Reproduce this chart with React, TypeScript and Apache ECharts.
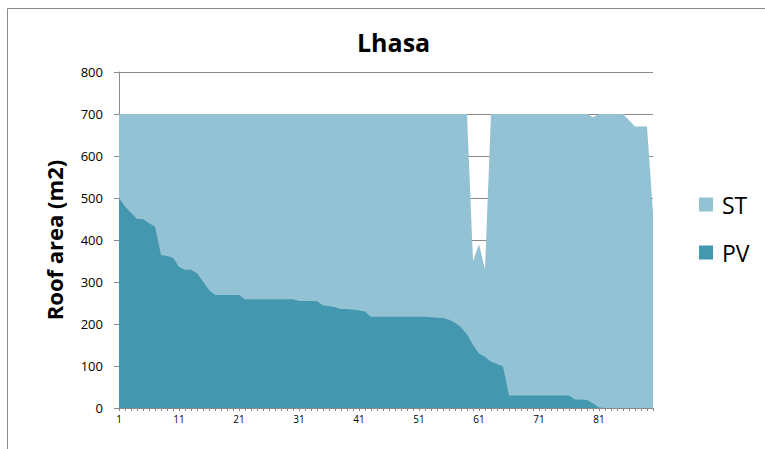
import React, { useEffect, useRef } from "react";
import * as echarts from "echarts";

const categories: string[] = Array.from({ length: 90 }, (_, i) => String(i + 1));

const pvValues: number[] = [
  500, 480, 465, 450, 450, 440, 432, 364, 362, 358,
  336, 329, 329, 321, 301, 281, 269, 269, 269, 269,
  269, 259, 259, 259, 259, 259, 259, 259, 259, 259,
  255, 255, 255, 254, 244, 243, 240, 236, 236, 234,
  232, 230, 217, 217, 217, 217, 217, 217, 217, 217,
  217, 217, 216, 215, 214, 210, 203, 192, 175, 150,
  130, 122, 110, 105, 99, 30, 30, 30, 30, 30,
  30, 30, 30, 30, 30, 30, 20, 20, 19, 11,
  1, 0, 0, 0, 0, 0, 0, 0, 0, 0,
];

const stValues: number[] = [
  700, 700, 700, 700, 700, 700, 700, 700, 700, 700,
  700, 700, 700, 700, 700, 700, 700, 700, 700, 700,
  700, 700, 700, 700, 700, 700, 700, 700, 700, 700,
  700, 700, 700, 700, 700, 700, 700, 700, 700, 700,
  700, 700, 700, 700, 700, 700, 700, 700, 700, 700,
  700, 700, 700, 700, 700, 700, 700, 700, 700, 350,
  390, 330, 700, 700, 700, 700, 700, 700, 700, 700,
  700, 700, 700, 700, 700, 700, 700, 700, 700, 692,
  700, 700, 700, 700, 700, 685, 670, 670, 670, 465,
];

const seriesNames: string[] = ["ST", "PV"];
const FONT = "'Open Sans', Lato, 'DejaVu Sans', sans-serif";
const GRAY = "#898989";

export default function App() {
  const ref = useRef<HTMLDivElement>(null);
  useEffect(() => {
    if (!ref.current) return;
    const chart = echarts.init(ref.current, undefined, { renderer: "svg" });
    chart.setOption({
      animation: false,
      backgroundColor: "#ffffff",
      textStyle: { fontFamily: FONT },
      title: {
        text: "Lhasa",
        left: 352,
        top: 24,
        textStyle: { fontFamily: FONT, fontSize: 25, fontWeight: "bold", color: "#000" },
      },
      legend: {
        orient: "vertical",
        left: 699,
        top: 193,
        padding: 0,
        itemWidth: 14,
        itemHeight: 14,
        itemGap: 25,
        icon: "rect",
        data: seriesNames,
        textStyle: { fontFamily: FONT, fontSize: 23, color: "#000", padding: [0, 0, 0, 4] },
      },
      grid: { left: 119, right: 112, top: 72, bottom: 41, containLabel: false },
      xAxis: {
        type: "category",
        data: categories,
        boundaryGap: false,
        axisLine: { show: true, lineStyle: { color: GRAY, width: 1 } },
        axisTick: { show: true, interval: 0, length: 3, lineStyle: { color: GRAY } },
        axisLabel: { interval: 9, fontSize: 10, color: "#000", margin: 6, fontFamily: FONT },
        splitLine: { show: false },
      },
      yAxis: {
        type: "value",
        min: 0,
        max: 800,
        interval: 100,
        name: "Roof area (m2)",
        nameLocation: "middle",
        nameGap: 54,
        nameRotate: 90,
        nameTextStyle: { fontFamily: FONT, fontSize: 22, fontWeight: "bold", color: "#000" },
        axisLine: { show: true, lineStyle: { color: GRAY, width: 1 } },
        axisTick: { show: true, length: 5, lineStyle: { color: GRAY } },
        axisLabel: { fontSize: 13, color: "#000", margin: 16, fontFamily: FONT },
        splitLine: { show: true, lineStyle: { color: GRAY, width: 1 } },
      },
      series: [
        {
          name: "ST",
          type: "line",
          data: stValues,
          showSymbol: false,
          symbol: "none",
          lineStyle: { width: 0, opacity: 0 },
          itemStyle: { color: "#93C2D4" },
          areaStyle: { color: "#93C2D4", opacity: 1 },
        },
        {
          name: "PV",
          type: "line",
          data: pvValues,
          showSymbol: false,
          symbol: "none",
          lineStyle: { width: 0, opacity: 0 },
          itemStyle: { color: "#4397AE" },
          areaStyle: { color: "#4397AE", opacity: 1 },
        },
      ],
      graphic: [
        {
          type: "rect",
          silent: true,
          shape: { x: 7.5, y: 8.5, width: 800, height: 500 },
          style: { fill: "none", stroke: "#8a8a8a", lineWidth: 1 },
        },
      ],
    });
    return () => chart.dispose();
  }, []);
  return (
    <div
      ref={ref}
      style={{ position: "absolute", left: 0, top: 0, width: 765, height: 449 }}
    />
  );
}
